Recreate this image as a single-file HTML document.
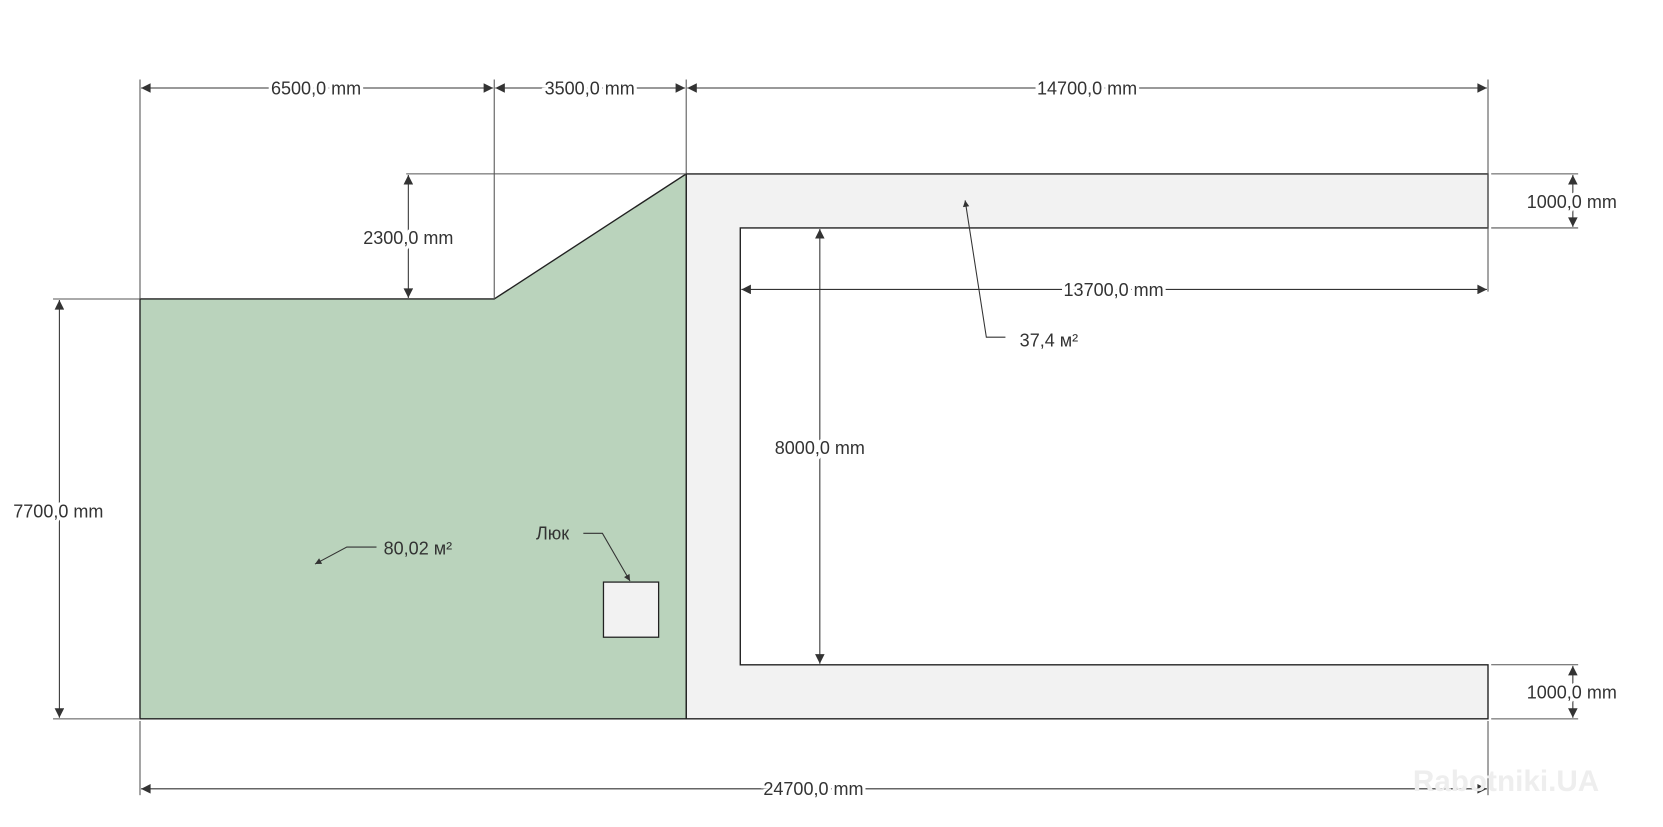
<!DOCTYPE html>
<html><head><meta charset="utf-8"><style>html,body{margin:0;padding:0;background:#fff}svg{display:block}</style></head>
<body>
<svg width="1663" height="827" viewBox="0 0 1568 780" preserveAspectRatio="none" xmlns="http://www.w3.org/2000/svg">
<defs>
<marker id="a" viewBox="0 0 10 10" refX="10" refY="5" markerWidth="14" markerHeight="9" orient="auto-start-reverse" markerUnits="userSpaceOnUse"><path d="M0,0 L10,5 L0,10 z" fill="#333"/></marker>
<marker id="s" viewBox="0 0 10 10" refX="10" refY="5" markerWidth="9" markerHeight="6" orient="auto" markerUnits="userSpaceOnUse"><path d="M0,0 L10,5 L0,10 z" fill="#333"/></marker>
</defs>
<path d="M647,164 L1403,164 L1403,215 L698,215 L698,627 L1403,627 L1403,678 L647,678 Z" fill="#f2f2f2" stroke="#222" stroke-width="1.3"/>
<path d="M132,282 L466,282 L647,164 L647,678 L132,678 Z" fill="#bad3bc" stroke="#222" stroke-width="1.3"/>
<rect x="569" y="549" width="52" height="52" fill="#f2f2f2" stroke="#222" stroke-width="1.2"/>
<g stroke="#555" stroke-width="1" fill="none">
<line x1="132" y1="75" x2="132" y2="282"/><line x1="466" y1="75" x2="466" y2="282"/>
<line x1="647" y1="75" x2="647" y2="164"/><line x1="1403" y1="75" x2="1403" y2="275"/>
<line x1="383" y1="164" x2="647" y2="164"/>
<line x1="50" y1="282" x2="132" y2="282"/><line x1="50" y1="678" x2="132" y2="678"/>
<line x1="1406" y1="164" x2="1488" y2="164"/><line x1="1406" y1="215" x2="1488" y2="215"/>
<line x1="1406" y1="627" x2="1488" y2="627"/><line x1="1406" y1="678" x2="1488" y2="678"/>
<line x1="132" y1="680" x2="132" y2="750"/><line x1="1403" y1="680" x2="1403" y2="750"/>
</g>
<g stroke="#333" stroke-width="1" fill="none" marker-start="url(#a)" marker-end="url(#a)">
<line x1="133" y1="83" x2="465" y2="83"/>
<line x1="467" y1="83" x2="646" y2="83"/>
<line x1="648" y1="83" x2="1402" y2="83"/>
<line x1="385" y1="165" x2="385" y2="281"/>
<line x1="56" y1="283" x2="56" y2="677"/>
<line x1="1483" y1="165" x2="1483" y2="214"/>
<line x1="1483" y1="628" x2="1483" y2="677"/>
<line x1="699" y1="273" x2="1402" y2="273"/>
<line x1="773" y1="216" x2="773" y2="626"/>
<line x1="133" y1="744" x2="1402" y2="744"/>
</g>
<g stroke="#333" stroke-width="1" fill="none">
<polyline points="550,503 568,503 594,548" marker-end="url(#s)"/>
<polyline points="355,516 327,516 297,532" marker-end="url(#s)"/>
<polyline points="948,318 930,318 910,189" marker-end="url(#s)"/>
</g>
<g font-family="'Liberation Sans','DejaVu Sans',sans-serif" font-size="17" fill="#333" text-anchor="middle">
<g stroke="#fff" stroke-width="6" paint-order="stroke">
<text x="298" y="89">6500,0 mm</text>
<text x="556" y="89">3500,0 mm</text>
<text x="1025" y="89">14700,0 mm</text>
<text x="385" y="230">2300,0 mm</text>
<text x="1050" y="279">13700,0 mm</text>
<text x="773" y="428">8000,0 mm</text>
<text x="55" y="488">7700,0 mm</text>
<text x="1482" y="196">1000,0 mm</text>
<text x="1482" y="659">1000,0 mm</text>
<text x="767" y="750">24700,0 mm</text>
</g>
<text x="394" y="523">80,02 м²</text>
<text x="521" y="509">Люк</text>
<text x="989" y="327">37,4 м²</text>
</g>
<text x="1420" y="746" font-family="'Liberation Sans',sans-serif" font-weight="bold" font-size="28" fill="#eee" text-anchor="middle">Rabotniki.UA</text>
</svg>
</body></html>
